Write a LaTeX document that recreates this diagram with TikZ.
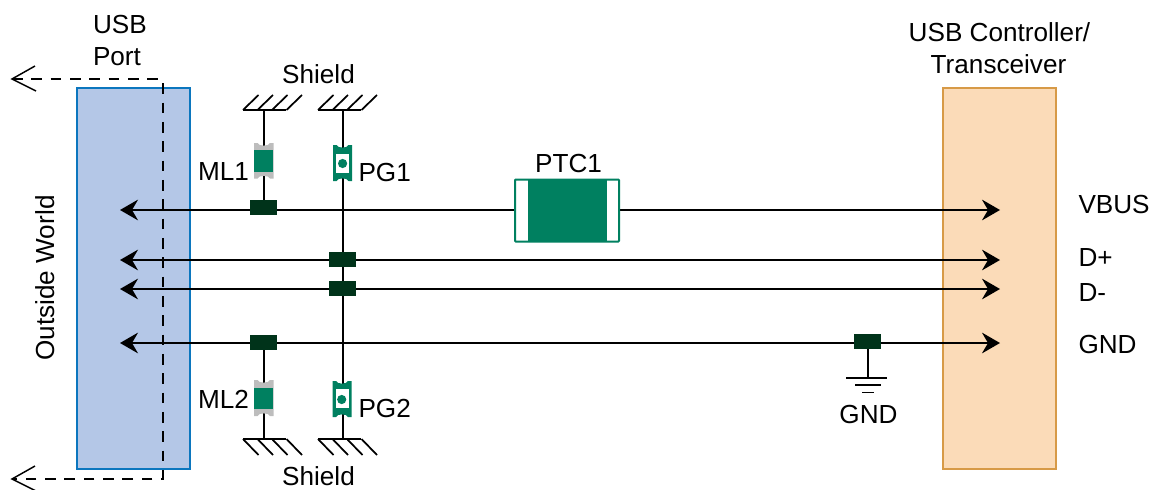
\documentclass[tikz,border=0pt]{standalone}
\usepackage{fontspec}
\setmainfont{Liberation Sans}
\usetikzlibrary{arrows.meta,backgrounds}
\definecolor{portfill}{HTML}{B4C7E7}
\definecolor{portline}{HTML}{0B76BE}
\definecolor{ctrlfill}{HTML}{FBDBB8}
\definecolor{ctrlline}{HTML}{D79A47}
\definecolor{partgreen}{HTML}{008060}
\definecolor{capgray}{HTML}{BDBDBD}
\definecolor{joint}{HTML}{00331A}
\tikzset{
  panel/.style={draw,line width=1.5pt,inner sep=0pt,outer sep=0pt,minimum width=84.75pt,minimum height=285.75pt},
  portbox/.style={panel,draw=portline,fill=portfill},
  ctrlbox/.style={panel,draw=ctrlline,fill=ctrlfill},
  jointbox/.style={fill=joint,inner sep=0pt,outer sep=0pt,minimum width=20.25pt,minimum height=11.25pt},
  wire/.style={line width=1.5pt,black},
  sig/.style={wire,{Stealth[length=13.5pt,width=15.5pt,inset=4.5pt]}-{Stealth[length=13.5pt,width=15.5pt,inset=4.5pt]}},
  hatchline/.style={line width=1.3pt,black},
  dashline/.style={line width=1.5pt,black,dash pattern=on 8pt off 6.5pt},
  openhead/.style={line width=1.1pt,black},
  lab/.style={font=\fontsize{19.6pt}{22pt}\selectfont,inner sep=0pt,outer sep=0pt,anchor=base west,text=black},
  labc/.style={lab,anchor=base},
  mlbody/.style={fill=partgreen,inner sep=0pt,outer sep=0pt,minimum width=14.6pt,minimum height=16pt},
  pgbody/.style={fill=white,inner sep=0pt,outer sep=0pt,minimum width=9.75pt,minimum height=14.25pt},
  ptcbody/.style={draw=partgreen,fill=white,line width=1.5pt,rounded corners=0.6pt,inner sep=0pt,outer sep=0pt,minimum width=78pt,minimum height=46.5pt},
}
% notched two-ended chip outline: x-left, x-right, y-top, y-bottom, colour
\newcommand{\chipshape}[5]{%
  \fill[#5] (#1,#3) -- ({#1+3.5},#3) .. controls ({#1+4.5},{#3+3.5}) and ({#2-4.5},{#3+3.5}) .. ({#2-3.5},#3) -- (#2,#3)
    -- (#2,#4) -- ({#2-3.5},#4) .. controls ({#2-4.5},{#4-3.5}) and ({#1+4.5},{#4-3.5}) .. ({#1+3.5},#4) -- (#1,#4) -- cycle;}
\begin{document}
\begin{tikzpicture}[x=0.75pt,y=-0.75pt]
\useasboundingbox (0,0) rectangle (1149,489);
% anchor points
\coordinate (a1l) at (120,210); \coordinate (a1r) at (1000,210);
\coordinate (a2l) at (120,260); \coordinate (a2r) at (1000,260);
\coordinate (a3l) at (120,289); \coordinate (a3r) at (1000,289);
\coordinate (a4l) at (120,343); \coordinate (a4r) at (1000,343);
\coordinate (shA) at (263.5,110); \coordinate (shB) at (342.7,110);
\coordinate (shC) at (263.5,439); \coordinate (shD) at (342.7,439);
\coordinate (gndtop) at (867.7,378);
% junctions
\node[jointbox] (j1) at (263.5,207.5) {};
\node[jointbox] (j2) at (342.7,259.5) {};
\node[jointbox] (j3) at (342.7,288.5) {};
\node[jointbox] (j4) at (263.5,342.5) {};
\node[jointbox] (j5) at (867.7,341.5) {};
% PTC
\node[ptcbody] (ptc) at (567,210.5) {};
\fill[partgreen] (528,179) rectangle (607,242);
% chips
\chipshape{254}{273.5}{143}{178.5}{capgray}
\node[mlbody] (ml1) at (263.7,161) {};
\chipshape{254}{273.5}{380}{416}{capgray}
\node[mlbody] (ml2) at (263.7,398.5) {};
\chipshape{333}{352}{145}{181}{partgreen}
\node[pgbody] (pg1) at (342.6,163.5) {};
\fill[partgreen] (pg1.center) circle[radius=4.6];
\chipshape{332.5}{351.5}{381}{417}{partgreen}
\node[pgbody] (pg2) at (342,398.5) {};
\fill[partgreen] (341.7,399.5) circle[radius=4.6];
% panels and connectors beneath the parts
\begin{scope}[on background layer]
\node[portbox] (port) at (133.5,278.5) {};
\node[ctrlbox] (ctrl) at (999,278.5) {};
\draw[sig] (a1l) -- (a1r);
\draw[sig] (a2l) -- (a2r);
\draw[sig] (a3l) -- (a3r);
\draw[sig] (a4l) -- (a4r);
\draw[wire] (shA) -- (j1);
\draw[wire] (shB) -- (j2);
\draw[wire] (j3) -- (shD);
\draw[wire] (j2) -- (j3);
\draw[wire] (j4) -- (shC);
\draw[wire] (j5) -- (gndtop);
\end{scope}
% shields
\foreach \bx in {243,318}{
  \draw[hatchline] (\bx,110) -- ({\bx+43},110);
  \foreach \k in {0,1,2,3} \draw[hatchline] ({\bx+\k*14.5},110) -- ({\bx+\k*14.5+15.5},95);
  \draw[hatchline] (\bx,439) -- ({\bx+43},439);
  \foreach \k in {0,1,2,3} \draw[hatchline] ({\bx+\k*14.5},439) -- ({\bx+\k*14.5+15.5},455);
}
% ground
\draw[hatchline] (846,378) -- (887,378);
\draw[hatchline] (855,385) -- (881,385);
\draw[hatchline] (862,392.5) -- (874,392.5);
% dashed outside-world arrows
\coordinate (dtop) at (162.5,79); \coordinate (dbot) at (162.5,479);
\coordinate (ltop) at (12,79); \coordinate (lbot) at (12,479);
\draw[dashline] (ltop) -- (dtop) -- (dbot) -- (lbot);
\draw[openhead] (35,66) -- (ltop) -- (36,91);
\draw[openhead] (35,466) -- (lbot) -- (36,491);
% labels
\node[lab] (t1) at (93,33) {USB};
\node[lab] (t2) at (93,65) {Port};
\node[labc] (t3) at (318.5,83) {Shield};
\node[labc] (t4) at (318.5,485) {Shield};
\node[lab] (t5) at (198,180) {ML1};
\node[lab] (t6) at (358.5,181) {PG1};
\node[lab] (t7) at (198,408) {ML2};
\node[lab] (t8) at (358.5,417) {PG2};
\node[labc] (t9) at (568.5,172) {PTC1};
\node[labc] (t10) at (868.5,423) {GND};
\node[labc] (t11) at (999.5,41) {USB Controller/};
\node[labc] (t12) at (998.5,73) {Transceiver};
\node[lab] (t13) at (1078.5,213) {VBUS};
\node[lab] (t14) at (1078.5,266) {D+};
\node[lab] (t15) at (1078.5,301) {D-};
\node[lab] (t16) at (1078.5,353) {GND};
\node[labc,rotate=90] (t17) at (54,278) {Outside World};
\end{tikzpicture}
\end{document}
